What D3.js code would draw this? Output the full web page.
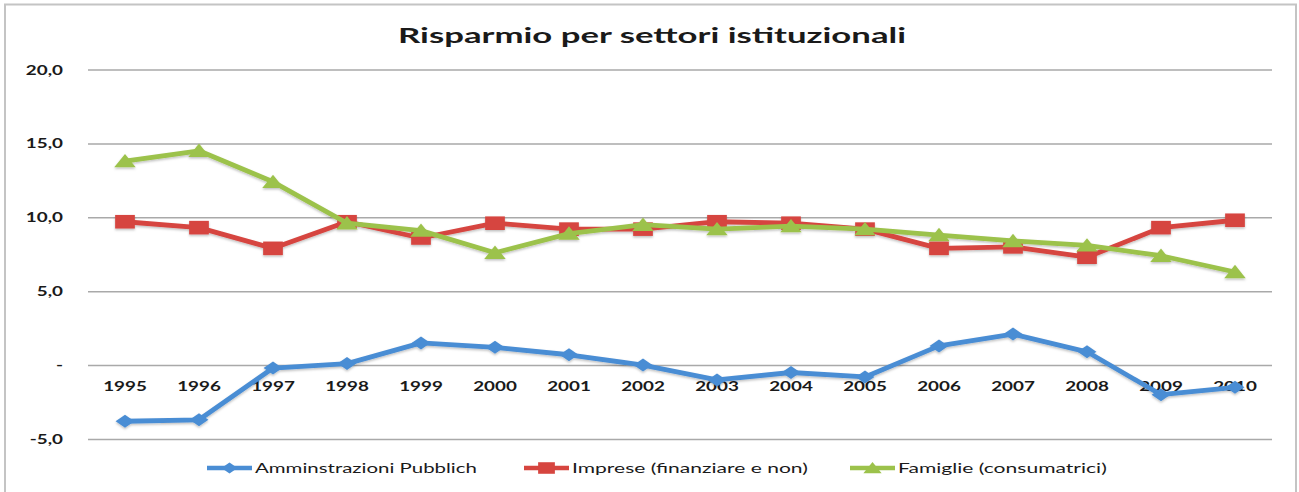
<!DOCTYPE html>
<html>
<head>
<meta charset="utf-8">
<script src="https://cdn.jsdelivr.net/npm/d3@7"></script>
<style>
  html, body { margin: 0; padding: 0; background: #ffffff; }
  svg { display: block; }
  text { font-family: Lato, "Open Sans", sans-serif; fill: #1a1a1a; }
</style>
</head>
<body>
<svg id="chart" width="1299" height="492"></svg>
<script>
// Saving by institutional sector, 1995-2010
const years = ["1995","1996","1997","1998","1999","2000","2001","2002",
               "2003","2004","2005","2006","2007","2008","2009","2010"];
const amministrazioni = [-3.8,-3.7,-0.2,0.1,1.5,1.2,0.7,0.0,-1.0,-0.5,-0.8,1.3,2.1,0.9,-2.0,-1.5];
const imprese         = [9.7,9.3,7.9,9.7,8.6,9.6,9.2,9.2,9.7,9.6,9.2,7.9,8.0,7.3,9.3,9.8];
const famiglie        = [13.8,14.5,12.4,9.6,9.1,7.6,8.9,9.5,9.2,9.4,9.2,8.8,8.4,8.1,7.4,6.3];
const seriesNames = ["Amminstrazioni Pubblich", "Imprese (finanziare e non)", "Famiglie (consumatrici)"];
const yTickValues = [-5, 0, 5, 10, 15, 20];
const yTickLabels = ["-5,0", "-", "5,0", "10,0", "15,0", "20,0"];
const titleText = "Risparmio per settori istituzionali";

const W = 1299, H = 492;
const SX = 1.45;              // horizontal stretch of the whole figure
const plot = { left: 88, right: 1272, top: 69.5, bottom: 439 };

const svg = d3.select("#chart");

const series = [
  { name: seriesNames[0], values: amministrazioni, color: "#4a8dd4", marker: "diamond" },
  { name: seriesNames[1], values: imprese,         color: "#d6453f", marker: "square" },
  { name: seriesNames[2], values: famiglie,        color: "#9cc24b", marker: "triangle" }
];

// soft drop shadow under the series
const defs = svg.append("defs");
const f = defs.append("filter").attr("id", "shadow")
  .attr("x", "-10%").attr("y", "-10%").attr("width", "120%").attr("height", "130%");
f.append("feDropShadow").attr("dx", 0).attr("dy", 1.5).attr("stdDeviation", 1.2)
  .attr("flood-color", "#000").attr("flood-opacity", 0.25);

// outer frame
svg.append("path")
  .attr("d", `M5,${H} L5,4.5 L1296,4.5 L1296,${H}`)
  .attr("fill", "none").attr("stroke", "#c4c4c4").attr("stroke-width", 2);

// stretch a text horizontally so it spans the given width
function fitText(sel, width) {
  sel.each(function () {
    const n = this.getComputedTextLength();
    const sx = width / n;
    const t = d3.select(this);
    const x = +t.attr("data-x"), y = +t.attr("data-y");
    t.attr("transform", `translate(${x},${y}) scale(${sx},1)`);
  });
}

// title
svg.append("text")
  .attr("data-x", 652).attr("data-y", 43)
  .attr("text-anchor", "middle")
  .attr("font-size", 20).attr("font-weight", 700)
  .text(titleText)
  .call(fitText, 508);

// scales
const x = d3.scaleBand().domain(years).range([plot.left, plot.right]).padding(0);
const cx = d => x(d) + x.bandwidth() / 2;
const y = d3.scaleLinear().domain([-5, 20]).range([plot.bottom, plot.top]);

// y axis: gridlines + labels
const yAxis = d3.axisLeft(y)
  .tickValues(yTickValues)
  .tickSizeInner(-(plot.right - plot.left))
  .tickSizeOuter(0)
  .tickPadding(25)
  .tickFormat((d, i) => yTickLabels[i]);

const gy = svg.append("g").attr("transform", `translate(${plot.left},0)`).call(yAxis);
gy.select(".domain").remove();
gy.selectAll(".tick line").attr("stroke", "#a9a9a9").attr("stroke-width", 1.5);
gy.selectAll(".tick text")
  .attr("font-family", "Lato, sans-serif")
  .attr("font-size", 13).attr("font-weight", 700).attr("fill", "#1a1a1a")
  .attr("x", 0).attr("dy", "0.35em")
  .attr("transform", `translate(-25,0) scale(${SX},1)`);

// x axis: category labels just below the zero line
const xAxis = d3.axisBottom(x).tickSize(0).tickPadding(0);
const gx = svg.append("g").attr("transform", `translate(0,${y(0)})`).call(xAxis);
gx.select(".domain").remove();
gx.selectAll(".tick text")
  .attr("font-family", "Lato, sans-serif")
  .attr("font-size", 13).attr("font-weight", 700).attr("fill", "#1a1a1a")
  .attr("y", 0).attr("dy", 0)
  .attr("transform", `translate(0,26) scale(${SX},1)`);

// marker shapes (unstretched; stretched with SX when placed)
const markerPath = {
  diamond:  "M0,-6.5 L6.5,0 L0,6.5 L-6.5,0 Z",
  square:   "M-6.8,-6.8 L6.8,-6.8 L6.8,6.8 L-6.8,6.8 Z",
  triangle: "M0,-7.2 L7.4,6.2 L-7.4,6.2 Z"
};

const line = d3.line()
  .x((v, i) => cx(years[i]))
  .y(v => y(v));

const gSeries = svg.append("g").attr("filter", "url(#shadow)");
series.forEach(s => {
  const g = gSeries.append("g");
  g.append("path")
    .datum(s.values)
    .attr("d", line)
    .attr("fill", "none")
    .attr("stroke", s.color)
    .attr("stroke-width", 4.8)
    .attr("stroke-linejoin", "round");
  g.selectAll("path.m")
    .data(s.values)
    .join("path")
    .attr("class", "m")
    .attr("d", markerPath[s.marker])
    .attr("transform", (v, i) => `translate(${cx(years[i])},${y(v)}) scale(${SX},1)`)
    .attr("fill", s.color);
});

// legend
const legendItems = [
  { x0: 207, tx: 255, w: 222 },
  { x0: 524, tx: 572, w: 236 },
  { x0: 850, tx: 898, w: 209 }
];
const ly = 468;
const gl = svg.append("g");
series.forEach((s, i) => {
  const it = legendItems[i];
  gl.append("line")
    .attr("x1", it.x0).attr("x2", it.x0 + 45)
    .attr("y1", ly).attr("y2", ly)
    .attr("stroke", s.color).attr("stroke-width", 4.5);
  gl.append("path")
    .attr("d", markerPath[s.marker])
    .attr("transform", `translate(${it.x0 + 22.5},${ly}) scale(${SX * 0.85},0.85)`)
    .attr("fill", s.color);
  gl.append("text")
    .attr("data-x", it.tx).attr("data-y", ly + 4.5)
    .attr("font-size", 12.5)
    .text(s.name)
    .call(fitText, it.w);
});
</script>
</body>
</html>
